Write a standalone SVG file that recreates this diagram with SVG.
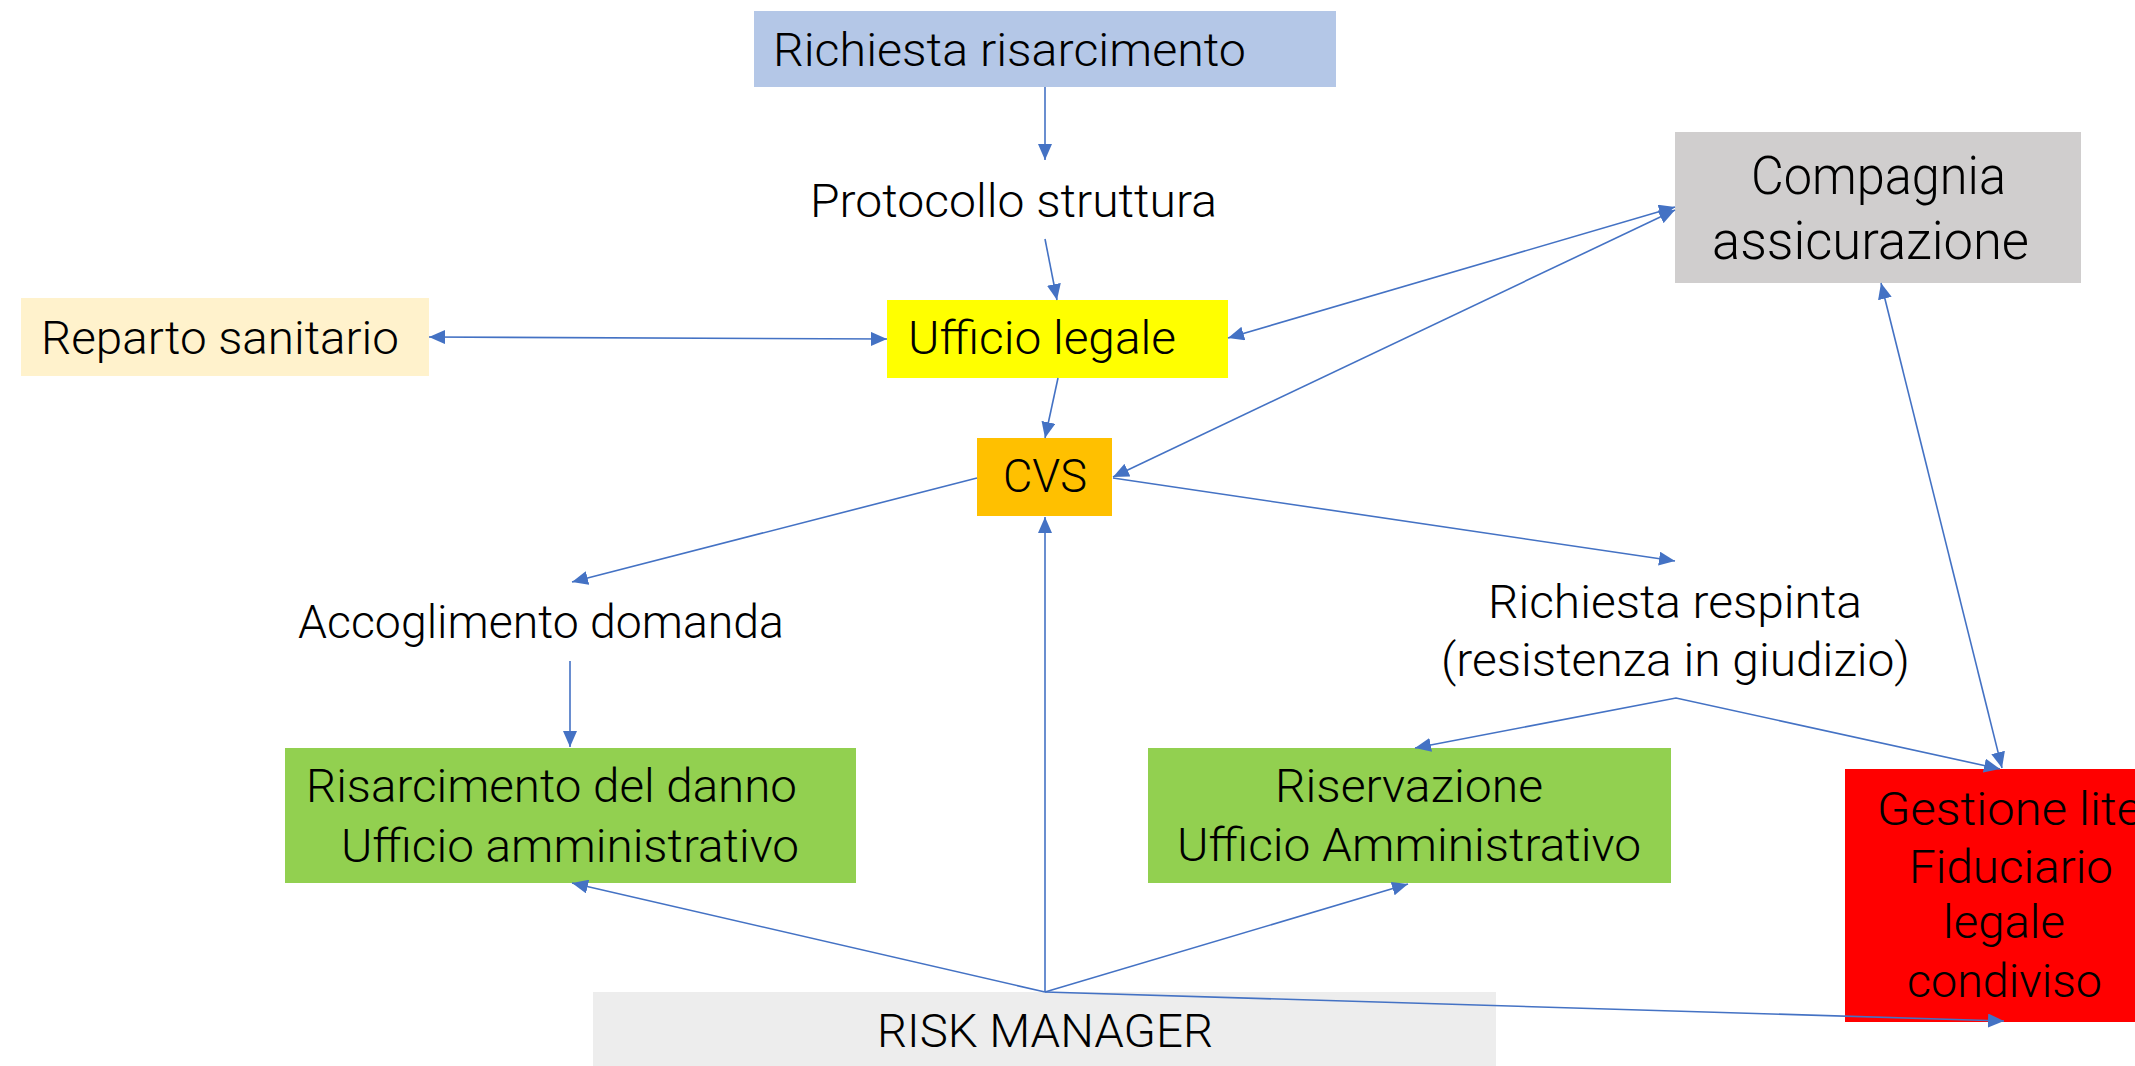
<svg xmlns="http://www.w3.org/2000/svg" width="2135" height="1066" viewBox="0 0 2135 1066">
<defs>
<style>
.t{font-family:Roboto,"Liberation Sans",sans-serif;font-size:47px;fill:#000;font-weight:300}
.tb{font-size:54px}
.c{stroke:#4472C4;stroke-width:1.6;fill:none}
.e{marker-end:url(#ah)}
.b{marker-start:url(#ah);marker-end:url(#ah)}
</style>
<marker id="ah" viewBox="0 0 16 14" refX="16" refY="7" markerWidth="16" markerHeight="14" markerUnits="userSpaceOnUse" orient="auto-start-reverse">
<path d="M0,0 L16,7 L0,14 z" fill="#4472C4"/>
</marker>
</defs>
<rect width="2135" height="1066" fill="#FFFFFF"/>

<g id="richiesta-risarcimento">
<rect x="754" y="11" width="582" height="76" fill="#B4C7E7"/>
<text class="t" x="773" y="66" textLength="473" lengthAdjust="spacingAndGlyphs">Richiesta risarcimento</text>
</g>
<g id="protocollo-struttura">
<text class="t" x="810" y="217" textLength="407" lengthAdjust="spacingAndGlyphs">Protocollo struttura</text>
</g>
<g id="compagnia-assicurazione">
<rect x="1675" y="132" width="406" height="151" fill="#D0CECE"/>
<text class="t tb" x="1751" y="194" textLength="255" lengthAdjust="spacingAndGlyphs">Compagnia</text>
<text class="t tb" x="1712" y="259" textLength="317" lengthAdjust="spacingAndGlyphs">assicurazione</text>
</g>
<g id="reparto-sanitario">
<rect x="21" y="298" width="408" height="78" fill="#FFF2CC"/>
<text class="t" x="41" y="354" textLength="358" lengthAdjust="spacingAndGlyphs">Reparto sanitario</text>
</g>
<g id="ufficio-legale">
<rect x="887" y="300" width="341" height="78" fill="#FFFF00"/>
<text class="t" x="908" y="354" textLength="268" lengthAdjust="spacingAndGlyphs">Ufficio legale</text>
</g>
<g id="cvs">
<rect x="977" y="438" width="135" height="78" fill="#FFC000"/>
<text class="t" x="1003" y="492" textLength="84" lengthAdjust="spacingAndGlyphs">CVS</text>
</g>
<g id="accoglimento-domanda">
<text class="t" x="298" y="638" textLength="486" lengthAdjust="spacingAndGlyphs">Accoglimento domanda</text>
</g>
<g id="richiesta-respinta">
<text class="t" x="1488" y="618" textLength="374" lengthAdjust="spacingAndGlyphs">Richiesta respinta</text>
<text class="t" x="1441" y="676" textLength="469" lengthAdjust="spacingAndGlyphs">(resistenza in giudizio)</text>
</g>
<g id="risarcimento-danno">
<rect x="285" y="748" width="571" height="135" fill="#92D050"/>
<text class="t" x="306" y="802" textLength="491" lengthAdjust="spacingAndGlyphs">Risarcimento del danno</text>
<text class="t" x="341" y="862" textLength="458" lengthAdjust="spacingAndGlyphs">Ufficio amministrativo</text>
</g>
<g id="riservazione">
<rect x="1148" y="748" width="523" height="135" fill="#92D050"/>
<text class="t" x="1275" y="802" textLength="268" lengthAdjust="spacingAndGlyphs">Riservazione</text>
<text class="t" x="1177" y="861" textLength="464" lengthAdjust="spacingAndGlyphs">Ufficio Amministrativo</text>
</g>
<g id="gestione-lite">
<rect x="1845" y="769" width="300" height="253" fill="#FF0000"/>
<text class="t" x="1877" y="825" textLength="265" lengthAdjust="spacingAndGlyphs">Gestione lite</text>
<text class="t" x="1909" y="883" textLength="204" lengthAdjust="spacingAndGlyphs">Fiduciario</text>
<text class="t" x="1943" y="938" textLength="122" lengthAdjust="spacingAndGlyphs">legale</text>
<text class="t" x="1907" y="997" textLength="195" lengthAdjust="spacingAndGlyphs">condiviso</text>
</g>
<g id="risk-manager">
<rect x="593" y="992" width="903" height="80" fill="#EDEDED"/>
<text class="t" x="877" y="1047" textLength="336" lengthAdjust="spacingAndGlyphs">RISK MANAGER</text>
</g>

<g id="connectors">
<line class="c e" x1="1045" y1="87" x2="1045" y2="160"/>
<line class="c e" x1="1045" y1="239" x2="1057" y2="300"/>
<line class="c b" x1="429" y1="337" x2="887" y2="339"/>
<line class="c e" x1="1058" y1="378" x2="1045" y2="438"/>
<line class="c b" x1="1675" y1="207" x2="1228" y2="338"/>
<line class="c b" x1="1675" y1="210" x2="1113" y2="477"/>
<line class="c e" x1="1113" y1="478" x2="1675" y2="561"/>
<line class="c e" x1="977" y1="478" x2="572" y2="582"/>
<line class="c e" x1="570" y1="661" x2="570" y2="747"/>
<polyline class="c" points="1415,748 1676,698 2000,769" marker-start="url(#ah)" marker-end="url(#ah)"/>
<line class="c b" x1="1881" y1="283" x2="2002" y2="768"/>
<line class="c e" x1="1045" y1="992" x2="572" y2="883"/>
<line class="c e" x1="1045" y1="992" x2="1408" y2="884"/>
<line class="c e" x1="1045" y1="992" x2="1045" y2="517"/>
<line class="c e" x1="1045" y1="992" x2="2004" y2="1021"/>
</g>
</svg>
